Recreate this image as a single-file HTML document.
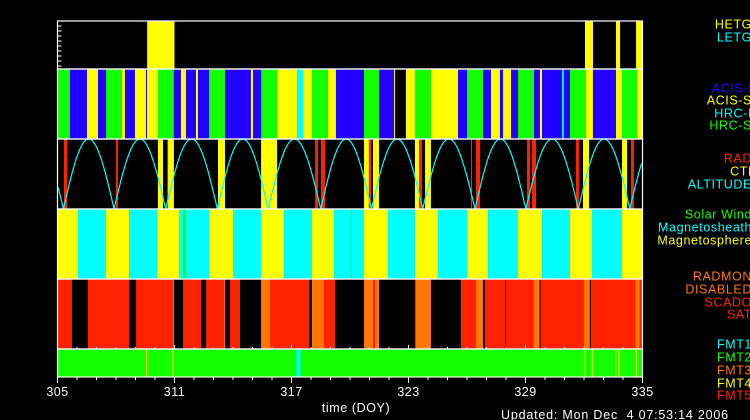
<!DOCTYPE html>
<html><head><meta charset="utf-8"><style>
html,body{margin:0;padding:0;background:#000;}
svg{display:block;font-family:"Liberation Sans",sans-serif;}
</style></head><body>
<svg id="c" width="750" height="420" viewBox="0 0 750 420">
<rect width="750" height="420" fill="#000"/>
</svg>
<script>
// ---- data (DOY) ----
const xTicks = [305, 311, 317, 323, 329, 335];
const grating = [[309.6,311.0,'HETG'],[332.05,332.46,'HETG'],[333.64,333.85,'HETG'],[334.67,335,'HETG']];
const instrument = [[305,305.64,'HRC-S'],[305.64,306.51,'ACIS-I'],[306.51,307.08,'ACIS-S'],[307.08,307.49,'ACIS-I'],[307.49,308.31,'HRC-S'],[308.31,308.46,'ACIS-S'],[308.46,308.97,'ACIS-I'],[308.97,309.54,'ACIS-S'],[309.54,309.59,'ACIS-I'],[309.59,310.15,'ACIS-S'],[310.15,310.97,'HRC-S'],[310.97,311.33,'ACIS-I'],[311.33,311.59,'ACIS-S'],[311.59,312.10,'ACIS-I'],[312.10,312.21,'ACIS-S'],[312.21,312.77,'ACIS-I'],[312.77,313.59,'HRC-S'],[313.59,314.92,'ACIS-I'],[314.92,315.03,'ACIS-S'],[315.03,315.44,'ACIS-I'],[315.44,316.26,'HRC-S'],[316.26,317.28,'ACIS-S'],[317.28,317.59,'HRC-I'],[317.59,318.05,'ACIS-S'],[318.05,318.87,'HRC-S'],[318.87,319.28,'ACIS-S'],[319.28,320.72,'ACIS-I'],[320.72,321.49,'HRC-S'],[321.49,322.26,'ACIS-I'],[322.26,322.31,'ACIS-S'],[322.87,323.33,'ACIS-S'],[323.33,324.15,'HRC-S'],[324.15,325.54,'ACIS-S'],[325.54,326.00,'ACIS-I'],[326.00,326.82,'HRC-S'],[326.82,327.23,'ACIS-I'],[327.23,327.69,'ACIS-S'],[327.69,327.85,'ACIS-I'],[327.85,328.26,'ACIS-S'],[328.26,328.62,'ACIS-I'],[328.62,329.44,'HRC-S'],[329.44,329.74,'ACIS-I'],[329.74,329.85,'ACIS-S'],[329.85,330.87,'ACIS-I'],[330.87,330.97,'HRC-I'],[330.97,331.28,'ACIS-I'],[331.28,332.10,'HRC-S'],[332.10,332.46,'ACIS-S'],[332.46,333.64,'ACIS-I'],[333.64,333.95,'ACIS-S'],[333.95,334.72,'HRC-S'],[334.72,335,'ACIS-S']];
const radiation = [[305.33,305.49,'RAD'],[308.0,308.1,'RAD'],[310.15,310.41,'CTI'],[310.62,310.67,'RAD'],[310.67,310.97,'CTI'],[313.23,313.59,'CTI'],[315.44,316.26,'CTI'],[318.21,318.36,'RAD'],[318.51,318.72,'RAD'],[320.72,320.97,'CTI'],[320.97,321.08,'RAD'],[321.18,321.49,'CTI'],[323.33,323.54,'CTI'],[323.54,323.69,'RAD'],[323.85,324.15,'CTI'],[326.2,326.26,'RAD'],[326.46,326.67,'RAD'],[329.08,329.23,'RAD'],[329.33,329.54,'RAD'],[331.59,331.74,'RAD'],[331.95,332.26,'CTI'],[333.95,334.21,'CTI'],[334.41,334.56,'RAD']];
const perigees = [302.66,305.3,307.9,310.55,313.2,315.8,318.5,321.1,323.73,326.41,329.02,331.71,334.35,337.0];
const solarWind = [[305,306.05,'Magnetosphere'],[306.05,307.49,'Magnetosheath'],[307.49,308.67,'Magnetosphere'],[308.67,310.10,'Magnetosheath'],[310.10,311.23,'Magnetosphere'],[311.23,312.77,'Magnetosheath'],[311.44,311.54,'Solar Wind'],[312.77,314.0,'Magnetosphere'],[314.0,315.44,'Magnetosheath'],[315.44,316.62,'Magnetosphere'],[316.62,318.05,'Magnetosheath'],[318.05,319.18,'Magnetosphere'],[319.18,320.72,'Magnetosheath'],[320.04,320.09,'Solar Wind'],[320.72,321.95,'Magnetosphere'],[321.95,323.33,'Magnetosheath'],[323.33,324.51,'Magnetosphere'],[324.51,326.0,'Magnetosheath'],[326.0,327.08,'Magnetosphere'],[327.08,328.62,'Magnetosheath'],[328.62,329.85,'Magnetosphere'],[329.85,331.28,'Magnetosheath'],[331.28,332.41,'Magnetosphere'],[332.41,333.95,'Magnetosheath'],[333.95,335,'Magnetosphere']];
const radmon = [[305,305.74,'SCADO'],[306.56,308.67,'SCADO'],[309.03,310.92,'SCADO'],[310.92,310.97,'DISABLED'],[311.44,312.36,'SCADO'],[312.62,313.54,'SCADO'],[313.54,313.59,'DISABLED'],[313.85,314.36,'SCADO'],[315.44,315.95,'DISABLED'],[315.9,316.0,'SCADO'],[316.0,317.9,'SCADO'],[318.05,318.67,'DISABLED'],[318.67,319.23,'SCADO'],[320.72,321.18,'DISABLED'],[321.18,321.28,'SCADO'],[321.28,321.49,'DISABLED'],[323.33,324.15,'DISABLED'],[323.33,323.38,'SCADO'],[325.69,326.46,'SCADO'],[326.46,326.82,'DISABLED'],[326.92,327.95,'SCADO'],[328.0,329.41,'SCADO'],[329.41,329.72,'DISABLED'],[329.77,332.0,'SCADO'],[332.0,332.3,'DISABLED'],[332.35,334.64,'SCADO'],[334.64,334.95,'DISABLED'],[334.85,335,'SCADO']];
const fmt = [[305,335,'FMT2'],[309.54,309.58,'FMT4'],[310.89,310.93,'FMT4'],[317.25,317.46,'FMT1'],[332.03,332.07,'FMT4'],[332.4,332.44,'FMT4'],[333.6,333.64,'FMT4'],[333.76,333.8,'FMT4'],[334.66,334.7,'FMT4']];

const colors = {'HETG':'#ffff00','LETG':'#00ffff','ACIS-I':'#2200ff','ACIS-S':'#ffff00','HRC-I':'#00ffff','HRC-S':'#11ff00',
 'RAD':'#ff2200','CTI':'#ffff00','ALTITUDE':'#00ffff','Solar Wind':'#11ff00','Magnetosheath':'#00ffff','Magnetosphere':'#ffff00',
 'RADMON':'#ff7700','DISABLED':'#ff7700','SCADO':'#ff2200','SAT':'#ff2200','FMT1':'#00ffff','FMT2':'#11ff00','FMT3':'#ff7700','FMT4':'#ffff00','FMT5':'#ff2200'};

// ---- layout ----
const X0 = 57.5, X1 = 642.5, D0 = 305, D1 = 335;
const xs = d => X0 + (Math.min(Math.max(d, D0), D1) - D0) * (X1 - X0) / (D1 - D0);
const panels = [
 {name:'grating', y0:21, y1:69, data:grating, legend:['HETG','LETG'], ly:[24,37]},
 {name:'instrument', y0:69, y1:139, data:instrument, legend:['ACIS-I','ACIS-S','HRC-I','HRC-S'], ly:[88,100,113,125]},
 {name:'radiation', y0:139, y1:209, data:radiation, legend:['RAD','CTI','ALTITUDE'], ly:[158,171,184]},
 {name:'solar-wind', y0:209, y1:279, data:solarWind, legend:['Solar Wind','Magnetosheath','Magnetosphere'], ly:[214,227,240]},
 {name:'radmon', y0:279, y1:349, data:radmon, legend:['RADMON','DISABLED','SCADO','SAT'], ly:[276,289,302,314]},
 {name:'fmt', y0:349, y1:377, data:fmt, legend:['FMT1','FMT2','FMT3','FMT4','FMT5'], ly:[344,357,370,383,395]}
];
const NS = 'http://www.w3.org/2000/svg';
const svg = document.getElementById('c');
function mk(tag, attrs, parent){ const e = document.createElementNS(NS, tag); for (const k in attrs) e.setAttribute(k, attrs[k]); (parent||svg).appendChild(e); return e; }

panels.forEach(p => {
  const g = mk('g', {});
  
  
  p.data.forEach(s => {
    const a = xs(s[0]), b = xs(s[1]);
    if (b <= a) return;
    const r = mk('rect', {x:a, y:p.y0, width:Math.max(b - a, 1), height:p.y1 - p.y0, fill:colors[s[2]]}, g);
    
    
  });
  p.legend.forEach((t, i) => {
    const tx = mk('text', {x:752, y:p.ly[i] + 4.5, 'text-anchor':'end', 'font-size':'12.5', 'letter-spacing':'0.6', fill:colors[t]}, svg);
    tx.textContent = t;
    
    
  });
});

// altitude curve
(function(){
  const p = panels[2];
  let d = '';
  for (let i = 0; i < perigees.length - 1; i++) {
    const a = perigees[i], b = perigees[i+1];
    for (let k = 0; k <= 40; k++) {
      const t = a + (b - a) * k / 40;
      if (t < D0 || t > D1) continue;
      const y = p.y1 - (p.y1 - p.y0) * Math.sin(Math.PI * k / 40);
      d += (d ? 'L' : 'M') + xs(t).toFixed(1) + ',' + y.toFixed(1);
    }
  }
  const path = mk('path', {d:d, fill:'none', stroke:'#00ffff', 'stroke-width':1.2});
  
  
})();

// frames
panels.forEach(p => {
  const f = mk('rect', {x:X0, y:p.y0, width:X1 - X0, height:p.y1 - p.y0, fill:'none', stroke:'#fff', 'stroke-width':1.2});
  
  
});
// left ticks on grating panel
for (let y = 26; y < 69; y += 5) mk('line', {x1:X0, x2:X0 + 4, y1:y, y2:y, stroke:'#fff', 'stroke-width':1});

// x ticks
for (let d = D0; d <= D1; d++) {
  const major = (d - D0) % 6 === 0;
  mk('line', {x1:xs(d), x2:xs(d), y1:377, y2:major ? 383 : 380, stroke:'#fff', 'stroke-width':1});
  mk('line', {x1:xs(d), x2:xs(d), y1:349, y2:major ? 345 : 347, stroke:'#fff', 'stroke-width':1});
}
xTicks.forEach(v => {
  const t = mk('text', {x:xs(v), y:396, 'text-anchor':'middle', 'font-size':'12.5', 'letter-spacing':'0.5', fill:'#fff'});
  t.textContent = v;
  
  
});
const xt = mk('text', {x:356, y:412, 'text-anchor':'middle', 'font-size':'12.5', 'letter-spacing':'0.6', fill:'#fff'});
xt.textContent = 'time (DOY)';


const up = mk('text', {x:501, y:419, 'font-size':'12.5', 'letter-spacing':'0.8', fill:'#fff'});
up.textContent = 'Updated: Mon Dec\u00a0\u00a04 07:53:14 2006';


</script>
</body></html>
